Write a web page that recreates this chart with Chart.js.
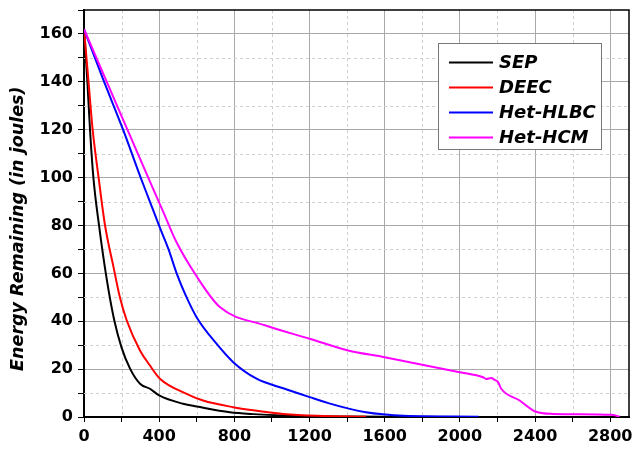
<!DOCTYPE html>
<html>
<head>
<meta charset="utf-8">
<script src="https://cdn.jsdelivr.net/npm/chart.js@4.4.1/dist/chart.umd.min.js"></script>
<style>
  html, body { margin: 0; padding: 0; background: #ffffff; }
  #wrap { width: 633px; height: 452px; position: relative; }
</style>
</head>
<body>
<div id="wrap"><canvas id="chart"></canvas></div>
<script>
// Rounds (x) and remaining energy in joules (y)
const sepRounds = [0, 18, 32, 50, 80, 120, 161, 200, 245, 298, 351, 400, 528, 600, 776, 900, 1060, 1400, 1800, 2130];
const sepEnergy = [162, 140, 120, 100, 80, 58, 40.4, 29, 20.2, 13.9, 11.8, 9, 5.5, 4.4, 2.0, 1.2, 0.6, 0.2, 0.1, 0];

const deecRounds = [0, 23, 46, 76, 112, 156, 191, 227, 298, 351, 404, 546, 634, 794, 900, 1060, 1240, 1500];
const deecEnergy = [162, 141, 120, 101, 80, 63, 50, 40.4, 27.8, 21.5, 16.0, 9.7, 6.9, 4.1, 2.8, 1.3, 0.5, 0.1];

const hlbcRounds = [0, 100, 209, 300, 351, 399, 450, 493, 540, 599, 705, 794, 918, 1060, 1201, 1300, 1414, 1500, 1591, 1700, 2100];
const hlbcEnergy = [162, 141.4, 119.8, 100.3, 89.9, 80, 70, 60, 51, 41.7, 30.6, 22.9, 16.0, 12.0, 8.3, 5.8, 3.4, 2.0, 1.1, 0.5, 0.1];

const hcmRounds = [0, 100, 245, 351, 420, 489, 599, 723, 962, 1201, 1405, 1600, 1999, 2123, 2140, 2167, 2185, 2203, 2220, 2318, 2398, 2495, 2805, 2850];
const hcmEnergy = [162, 143.8, 117.5, 98.3, 86, 73.5, 58.8, 45.9, 38.3, 32.7, 27.8, 25.0, 18.7, 16.6, 15.9, 16.3, 15.5, 14.6, 11.8, 6.9, 2.4, 1.3, 0.9, 0.2];

const seriesNames = ['SEP', 'DEEC', 'Het-HLBC', 'Het-HCM'];
const seriesColors = ['#000000', '#ff0000', '#0000ff', '#ff00ff'];

const xMax = 2900;
const yMax = 170;
const FONT = '"DejaVu Sans", Verdana, sans-serif';

function toPoints(xs, ys) {
    return xs.map((x, i) => ({ x: x, y: ys[i] }));
}

const allSeries = [
    toPoints(sepRounds, sepEnergy),
    toPoints(deecRounds, deecEnergy),
    toPoints(hlbcRounds, hlbcEnergy),
    toPoints(hcmRounds, hcmEnergy)
];

// Dashed minor grid lines and the top/right frame
const minorGridPlugin = {
    id: 'minorGrid',
    beforeDatasetsDraw(chart) {
        const { ctx, chartArea, scales } = chart;
        ctx.save();
        ctx.strokeStyle = '#cfcfcf';
        ctx.lineWidth = 1;
        ctx.setLineDash([3, 3]);
        for (let v = 200; v < xMax; v += 400) {
            const px = Math.round(scales.x.getPixelForValue(v)) + 0.5;
            ctx.beginPath();
            ctx.moveTo(px, chartArea.top);
            ctx.lineTo(px, chartArea.bottom);
            ctx.stroke();
        }
        for (let v = 10; v < yMax; v += 20) {
            const py = Math.round(scales.y.getPixelForValue(v)) + 0.5;
            ctx.beginPath();
            ctx.moveTo(chartArea.left, py);
            ctx.lineTo(chartArea.right, py);
            ctx.stroke();
        }
        ctx.restore();
    },
    afterDraw(chart) {
        const { ctx, chartArea } = chart;
        ctx.save();
        ctx.strokeStyle = '#000000';
        ctx.lineWidth = 1.5;
        ctx.beginPath();
        ctx.moveTo(chartArea.left, chartArea.top);
        ctx.lineTo(chartArea.right, chartArea.top);
        ctx.lineTo(chartArea.right, chartArea.bottom);
        ctx.stroke();
        ctx.restore();
    }
};

// Boxed legend in the upper right
const boxLegendPlugin = {
    id: 'boxLegend',
    afterDraw(chart) {
        const ctx = chart.ctx;
        const left = 438, top = 43, width = 163, height = 106;
        ctx.save();
        ctx.fillStyle = '#ffffff';
        ctx.fillRect(left, top, width, height);
        ctx.strokeStyle = '#777777';
        ctx.lineWidth = 1;
        ctx.strokeRect(left + 0.5, top + 0.5, width, height);
        ctx.font = 'italic bold 18px ' + FONT;
        ctx.textBaseline = 'middle';
        chart.data.datasets.forEach((ds, i) => {
            const y = top + 19.5 + i * 25;
            ctx.strokeStyle = ds.borderColor;
            ctx.lineWidth = 2;
            ctx.beginPath();
            ctx.moveTo(449, y);
            ctx.lineTo(493, y);
            ctx.stroke();
            ctx.fillStyle = '#000000';
            ctx.fillText(ds.label, 499, y + 1);
        });
        ctx.restore();
    }
};

const datasets = seriesNames.map((name, i) => ({
    label: name,
    data: allSeries[i],
    borderColor: seriesColors[i],
    backgroundColor: seriesColors[i],
    borderWidth: 2,
    pointRadius: 0,
    cubicInterpolationMode: 'monotone',
    fill: false,
    order: seriesNames.length - i
}));

new Chart(document.getElementById('chart'), {
    type: 'line',
    data: { datasets: datasets },
    options: {
        responsive: true,
        maintainAspectRatio: false,
        animation: false,
        layout: { padding: { top: 0, right: 4, bottom: 0, left: 0 } },
        plugins: {
            legend: { display: false },
            tooltip: { enabled: false }
        },
        scales: {
            x: {
                type: 'linear',
                min: 0,
                max: xMax,
                afterFit(scale) {
                    scale.height = 35;
                    scale.paddingRight = 0;
                    scale.paddingLeft = 0;
                },
                ticks: {
                    stepSize: 200,
                    includeBounds: false,
                    autoSkip: false,
                    maxRotation: 0,
                    padding: 5,
                    color: '#000000',
                    font: { family: FONT, size: 16, weight: 'bold' },
                    callback: v => (v % 400 === 0 ? v : '')
                },
                grid: {
                    color: ctx => (ctx.tick && ctx.tick.value % 400 === 0 ? '#a9a9a9' : 'rgba(0,0,0,0)'),
                    tickColor: '#000000',
                    tickLength: 5,
                    lineWidth: 1
                },
                border: { color: '#000000', width: 2 }
            },
            y: {
                min: 0,
                max: yMax,
                afterFit(scale) {
                    scale.width = 84;
                    scale.paddingTop = 10;
                    scale.paddingBottom = 0;
                },
                title: {
                    display: true,
                    text: 'Energy Remaining (in joules)     ',
                    color: '#000000',
                    font: { family: FONT, size: 17.5, weight: 'bold', style: 'italic' },
                    padding: { top: 8, bottom: 0 }
                },
                ticks: {
                    stepSize: 10,
                    includeBounds: false,
                    autoSkip: false,
                    padding: 5,
                    color: '#000000',
                    font: { family: FONT, size: 16, weight: 'bold' },
                    callback: v => (v % 20 === 0 ? v : '')
                },
                grid: {
                    color: ctx => (ctx.tick && ctx.tick.value % 20 === 0 ? '#a9a9a9' : 'rgba(0,0,0,0)'),
                    tickColor: '#000000',
                    tickLength: 6,
                    lineWidth: 1
                },
                border: { color: '#000000', width: 2 }
            }
        }
    },
    plugins: [minorGridPlugin, boxLegendPlugin]
});
</script>
</body>
</html>
